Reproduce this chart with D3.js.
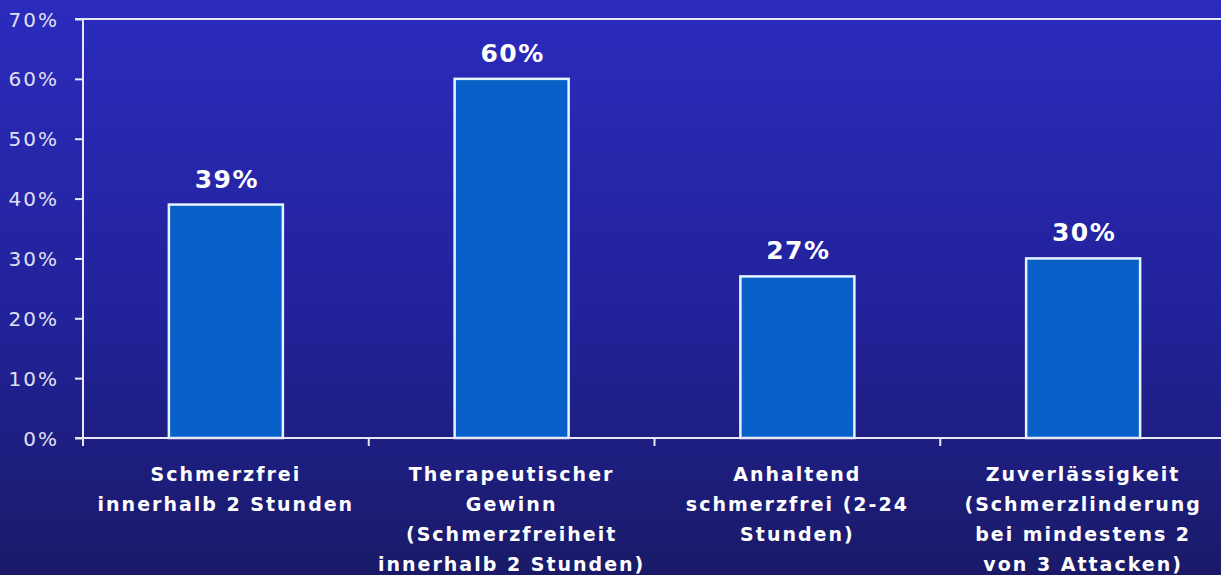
<!DOCTYPE html>
<html><head><meta charset="utf-8">
<script src="https://cdn.jsdelivr.net/npm/d3@7"></script>
<style>html,body{margin:0;padding:0;overflow:hidden;}</style>
</head><body>
<svg id="c" width="1221" height="575"></svg>
<script>
const categories = ["c1","c2","c3","c4"];
const categoryLabels = [
  ["Schmerzfrei","innerhalb 2 Stunden"],
  ["Therapeutischer","Gewinn","(Schmerzfreiheit","innerhalb 2 Stunden)"],
  ["Anhaltend","schmerzfrei (2-24","Stunden)"],
  ["Zuverlässigkeit","(Schmerzlinderung","bei mindestens 2","von 3 Attacken)"]
];
const values = [39, 60, 27, 30];
const yTicks = [0,10,20,30,40,50,60,70];

(function(){
const W = 1221, H = 575;
const svg = d3.select("#c");
const defs = svg.append("defs");
const g = defs.append("linearGradient").attr("id","bg").attr("x1",0).attr("y1",0).attr("x2",0).attr("y2",1);
g.append("stop").attr("offset","0%").attr("stop-color","#2b2bbd");
g.append("stop").attr("offset","55%").attr("stop-color","#22229a");
g.append("stop").attr("offset","100%").attr("stop-color","#1a1a68");
svg.append("rect").attr("width",W).attr("height",H).attr("fill","url(#bg)");

const mLeft = 83, mRight = 1226, mTop = 19, mBottom = 438;
const xb = d3.scaleBand().domain(categories).range([mLeft, mRight]);
const y = d3.scaleLinear().domain([0,70]).range([mBottom, mTop]);

svg.append("line").attr("x1",mLeft).attr("x2",W).attr("y1",y(70)).attr("y2",y(70))
  .attr("stroke","#e8e8f4").attr("stroke-width",2);

svg.selectAll("rect.bar").data(values).join("rect").attr("class","bar")
  .attr("x",(d,i)=>xb(categories[i]) + xb.bandwidth()/2 - 57)
  .attr("width",114)
  .attr("y",d=>y(d)).attr("height",d=>mBottom - y(d))
  .attr("fill","#0860c8").attr("stroke","#e6f4ff").attr("stroke-width",2.5);

svg.selectAll("text.val").data(values).join("text").attr("class","val")
  .attr("x",(d,i)=>xb(categories[i]) + xb.bandwidth()/2 + 1)
  .attr("y",d=>y(d)-17)
  .attr("text-anchor","middle").attr("fill","#ffffff")
  .attr("font-family","DejaVu Sans, sans-serif").attr("font-weight","bold").attr("font-size",25)
  .attr("letter-spacing",1.5)
  .text(d=>d+"%");

const ya = d3.axisLeft(y).tickValues(yTicks).tickSize(8).tickFormat(d=>d+"%");
const yg = svg.append("g").attr("transform",`translate(${mLeft},0)`).call(ya);
yg.select(".domain").attr("stroke","#e8e8f4").attr("stroke-width",2).attr("d",`M-8,${y(70)}H0V${mBottom}H-8`);
yg.selectAll(".tick line").attr("stroke","#e8e8f4").attr("stroke-width",2);
yg.selectAll(".tick text").attr("fill","#e0e0f4").attr("font-family","DejaVu Sans, sans-serif")
  .attr("font-size",20).attr("letter-spacing",2).attr("x",-24).attr("dy","0.35em");

const xa = d3.axisBottom(xb).tickSize(0).tickFormat("");
const xg = svg.append("g").attr("transform",`translate(0,${mBottom})`).call(xa);
xg.select(".domain").attr("stroke","#e8e8f4").attr("stroke-width",2).attr("d",`M${mLeft},0H${W}`);
const bounds = categories.map(c=>xb(c));
xg.selectAll("line.sep").data(bounds).join("line").attr("class","sep")
  .attr("x1",d=>d).attr("x2",d=>d).attr("y1",0).attr("y2",8)
  .attr("stroke","#e8e8f4").attr("stroke-width",2);

const lab = svg.selectAll("text.cat").data(categoryLabels).join("text").attr("class","cat")
  .attr("text-anchor","middle").attr("fill","#ffffff")
  .attr("font-family","DejaVu Sans, sans-serif").attr("font-weight","bold")
  .attr("font-size",19).attr("letter-spacing",2);
lab.each(function(lines,i){
  const cx = xb(categories[i]) + xb.bandwidth()/2;
  d3.select(this).selectAll("tspan").data(lines).join("tspan")
    .attr("x",cx).attr("y",(d,j)=>481 + j*30).text(d=>d);
});
})();
</script>
</body></html>
